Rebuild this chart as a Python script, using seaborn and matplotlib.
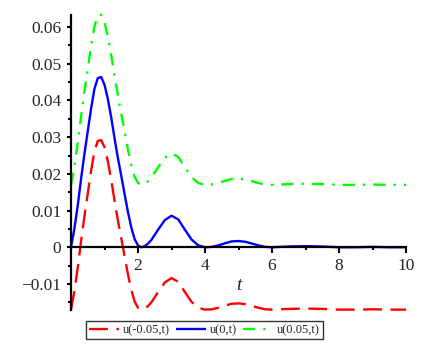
import matplotlib
matplotlib.use('Agg')
import matplotlib.pyplot as plt
import seaborn as sns
from matplotlib.ticker import MultipleLocator

# values
t = [0.0, 0.1, 0.2, 0.3, 0.4, 0.5, 0.6, 0.7, 0.8, 0.9, 1.0, 1.1, 1.2, 1.3, 1.4, 1.5,
     1.6, 1.7, 1.8, 1.9, 2.0, 2.1, 2.2, 2.3, 2.4, 2.6, 2.8, 3.0, 3.2, 3.4, 3.6, 3.8,
     4.0, 4.2, 4.4, 4.6, 4.8, 5.0, 5.2, 5.4, 5.6, 5.8, 6.0, 6.5, 7.0, 7.5, 8.0, 8.5,
     9.0, 9.5, 10.0]

u_minus = [-0.0170, -0.0120, -0.0057, 0.0016, 0.0084, 0.0146, 0.0208, 0.0262, 0.0290,
           0.0292, 0.0273, 0.0234, 0.0184, 0.0127, 0.0073, 0.0025, -0.0025, -0.0074,
           -0.0116, -0.0148, -0.0165, -0.0170, -0.0167, -0.0160, -0.0150, -0.0122,
           -0.0096, -0.0084, -0.0094, -0.0122, -0.0149, -0.0165, -0.0170, -0.0169,
           -0.0165, -0.0159, -0.0154, -0.0153, -0.0155, -0.0160, -0.0165, -0.0169,
           -0.0170, -0.0168, -0.0167, -0.0168, -0.0170, -0.0170, -0.0169, -0.0170, -0.0170]

u_zero = [0.0, 0.0050, 0.0113, 0.0186, 0.0254, 0.0316, 0.0378, 0.0432, 0.0461, 0.0464,
          0.0443, 0.0404, 0.0354, 0.0297, 0.0243, 0.0195, 0.0145, 0.0096, 0.0054,
          0.0022, 0.0005, 0.0, 0.0003, 0.0010, 0.0020, 0.0048, 0.0074, 0.0086, 0.0076,
          0.0048, 0.0021, 0.0005, 0.0, 0.0001, 0.0005, 0.0011, 0.0016, 0.0017, 0.0015,
          0.0010, 0.0005, 0.0001, 0.0, 0.0002, 0.0003, 0.0002, 0.0, 0.0, 0.0001, 0.0, 0.0]

u_plus = [0.0170, 0.0220, 0.0283, 0.0356, 0.0424, 0.0486, 0.0548, 0.0602, 0.0631, 0.0634,
          0.0613, 0.0574, 0.0524, 0.0467, 0.0413, 0.0365, 0.0315, 0.0266, 0.0224,
          0.0192, 0.0175, 0.0170, 0.0173, 0.0180, 0.0190, 0.0218, 0.0244, 0.0256,
          0.0246, 0.0218, 0.0191, 0.0175, 0.0170, 0.0171, 0.0175, 0.0181, 0.0186,
          0.0187, 0.0185, 0.0180, 0.0175, 0.0171, 0.0170, 0.0172, 0.0173, 0.0172,
          0.0170, 0.0170, 0.0171, 0.0170, 0.0170]

labels = ['u(-0.05,t)', 'u(0,t)', 'u(0.05,t)']
x_ticks = [2, 4, 6, 8, 10]
y_ticks = [-0.01, 0.0, 0.01, 0.02, 0.03, 0.04, 0.05, 0.06]
y_tick_labels = ['\u22120.01', '0', '0.01', '0.02', '0.03', '0.04', '0.05', '0.06']

sns.set_style('white')
plt.rcParams['font.family'] = ['Liberation Serif', 'DejaVu Serif']

fig = plt.figure(figsize=(4.3, 3.45), dpi=100)
ax = fig.add_axes([71 / 430, 35 / 345, 335 / 430, 295 / 345])

line_kw = dict(lw=1.7, clip_on=False, solid_joinstyle='round',
               dash_joinstyle='round', solid_capstyle='butt')
sns.lineplot(x=t, y=u_minus, ax=ax, color='#ff0000',
             linestyle=(0, (8.0, 3.6)), label=labels[0], **line_kw)
sns.lineplot(x=t, y=u_zero, ax=ax, color='#0000ff', label=labels[1], **line_kw)
sns.lineplot(x=t, y=u_plus, ax=ax, color='#00ff00',
             linestyle=(0, (5.2, 3.4, 1, 3.4)), label=labels[2], **line_kw)

ax.set_xlim(0, 10)
ax.set_ylim(-0.0171, 0.0633)

# Maple-like crossing axes
ax.spines['bottom'].set_position(('data', 0))
ax.spines['top'].set_visible(False)
ax.spines['right'].set_visible(False)
for s in ['left', 'bottom']:
    ax.spines[s].set_linewidth(1.6)
    ax.spines[s].set_color('black')

ax.set_xticks(x_ticks)
ax.xaxis.set_minor_locator(MultipleLocator(1))
ax.set_yticks(y_ticks, y_tick_labels)
ax.yaxis.set_minor_locator(MultipleLocator(0.005))
ax.tick_params(bottom=True, left=True, which='both', direction='out', width=1.5,
               labelsize=12.5, color='black')
ax.tick_params(axis='x', which='major', length=4, pad=4)
ax.tick_params(axis='y', which='major', length=3, pad=4)
ax.tick_params(which='minor', length=2)

ax.text(5, -0.0103, 't', style='italic', fontsize=14, ha='center', va='center')

leg = ax.legend(loc='center', bbox_to_anchor=(204.5 / 430, 15 / 345),
                bbox_transform=fig.transFigure, ncol=3, fontsize=9, frameon=True,
                fancybox=False, edgecolor='black', handlelength=2.4,
                handletextpad=0.3, columnspacing=0.5, borderpad=0.25,
                borderaxespad=0)
leg.get_frame().set_linewidth(1)

fig.savefig('out.png', dpi=100)
